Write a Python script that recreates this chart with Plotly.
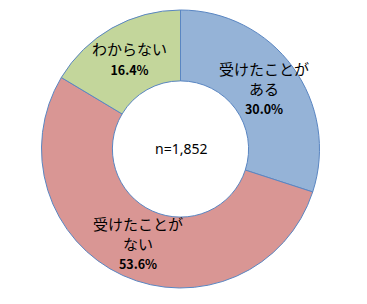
import math
import plotly.graph_objects as go

# Survey response breakdown
labels = ["受けたことが<br>ある", "受けたことが<br>ない", "わからない"]
values = [30.0, 53.6, 16.4]
colors = ["#95B3D7", "#D99694", "#C3D69B"]
sample_note = "n=1,852"

W, H = 367, 304
cx, cy = 180.5, 149.0      # donut centre in pixels
R_out, hole = 139.0, 0.49  # outer radius (px) and hole ratio

fig = go.Figure(
    go.Pie(
        labels=labels,
        values=values,
        marker=dict(colors=colors, line=dict(color="#5A86C2", width=1)),
        hole=hole,
        sort=False,
        direction="clockwise",
        rotation=0,
        textinfo="none",
        hoverinfo="label+percent",
        showlegend=False,
        domain=dict(
            x=[(cx - R_out) / W, (cx + R_out) / W],
            y=[1 - (cy + R_out) / H, 1 - (cy - R_out) / H],
        ),
    )
)

# Place each label at the middle of its ring segment
total = sum(values)
r_mid = R_out * (1 + hole) / 2
start = 0.0
annotations = []
for lab, v in zip(labels, values):
    mid = (start + v / 2) / total * 2 * math.pi
    start += v
    px = cx + r_mid * math.sin(mid)
    py = cy - r_mid * math.cos(mid)
    annotations.append(
        dict(
            x=px / W, y=1 - py / H, xref="paper", yref="paper",
            text=f"{lab}<br><b><span style='font-size:12.5px'>{v:.1f}%</span></b>",
            showarrow=False, xanchor="center", yanchor="middle",
            font=dict(family="Noto Sans CJK JP", size=15, color="#000000"),
        )
    )

annotations.append(
    dict(
        x=cx / W, y=1 - cy / H, xref="paper", yref="paper",
        text=sample_note, showarrow=False,
        font=dict(family="Noto Sans", size=14, color="#000000"),
    )
)

fig.update_layout(
    width=W, height=H,
    margin=dict(l=0, r=0, t=0, b=0),
    paper_bgcolor="#FFFFFF",
    plot_bgcolor="#FFFFFF",
    annotations=annotations,
)

fig.write_html("out.html")
